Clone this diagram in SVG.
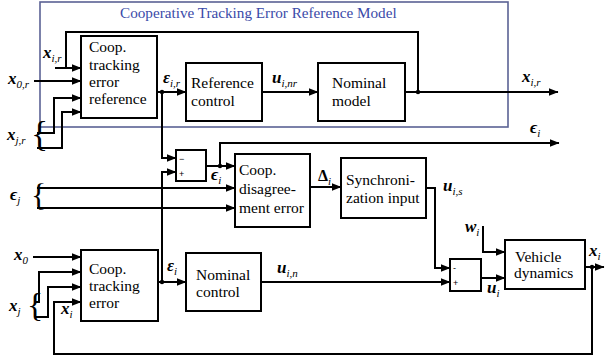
<svg xmlns="http://www.w3.org/2000/svg" width="605" height="361" viewBox="0 0 605 361">
<style>
.bx{fill:#fff;stroke:#000;stroke-width:2}
.ln{fill:none;stroke:#000;stroke-width:2}
.t{font-family:'Liberation Serif','Times New Roman',Times,Tinos,'Noto Serif','DejaVu Serif',serif;font-size:15.5px;fill:#000}
.m{font-family:'Liberation Serif','Times New Roman',Times,Tinos,'Noto Serif','DejaVu Serif',serif;fill:#000}
.ttl{font-family:'Liberation Serif','Times New Roman',Times,Tinos,'Noto Serif','DejaVu Serif',serif;font-size:15.2px;fill:#3a4aa8}
.b{font-weight:bold;font-style:italic;font-size:17px}
.bu{font-weight:bold;font-size:16px}
.s{font-style:italic;font-size:11px;font-weight:normal}
.sg{font-family:'Liberation Sans',Arial,sans-serif;font-size:9px;fill:#000}
.br{font-family:'Liberation Serif','Times New Roman',Times,'DejaVu Serif',serif;fill:#000}
</style>
<defs>
<marker id="ah" markerWidth="10" markerHeight="8" refX="9.5" refY="4" orient="auto" markerUnits="userSpaceOnUse"><path d="M0,0 L10,4 L0,8 z" fill="#000"/></marker>
</defs>

<g id="ref-model-frame">
<rect x="40" y="2" width="468" height="125" fill="none" stroke="#5b6294" stroke-width="1.6"/>
<text class="ttl" x="120" y="18">Cooperative Tracking Error Reference Model</text>
</g>

<g id="connectors">
<path class="ln" d="M418,92 V32 H66 V68 H81" marker-end="url(#ah)"/>
<path class="ln" d="M55,68 H66"/>
<path class="ln" d="M34,81 H81" marker-end="url(#ah)"/>
<path class="ln" d="M37,133 H54 V98 H81" marker-end="url(#ah)"/>
<path class="ln" d="M37,148 H62 V112 H81" marker-end="url(#ah)"/>
<path class="ln" d="M157,92 H186" marker-end="url(#ah)"/>
<path class="ln" d="M162,92 V158 H176" marker-end="url(#ah)"/>
<path class="ln" d="M262,92 H318" marker-end="url(#ah)"/>
<path class="ln" d="M405,92 H558" marker-end="url(#ah)"/>
<path class="ln" d="M162,282 V172 H176" marker-end="url(#ah)"/>
<path class="ln" d="M206,166 H235" marker-end="url(#ah)"/>
<path class="ln" d="M220,166 V143 H559" marker-end="url(#ah)"/>
<path class="ln" d="M37,188 H235" marker-end="url(#ah)"/>
<path class="ln" d="M37,208 H235" marker-end="url(#ah)"/>
<path class="ln" d="M310,187 H341" marker-end="url(#ah)"/>
<path class="ln" d="M426,188 H435 V268 H450" marker-end="url(#ah)"/>
<path class="ln" d="M483,226 V252 H505" marker-end="url(#ah)"/>
<path class="ln" d="M481,278 H505" marker-end="url(#ah)"/>
<path class="ln" d="M33,257 H81" marker-end="url(#ah)"/>
<path class="ln" d="M36,302 H39 V272 H81" marker-end="url(#ah)"/>
<path class="ln" d="M36,317 H48 V287 H81" marker-end="url(#ah)"/>
<path class="ln" d="M592,267 V354 H54 V302 H81" marker-end="url(#ah)"/>
<path class="ln" d="M585,267 H604" marker-end="url(#ah)"/>
<path class="ln" d="M158,282 H186" marker-end="url(#ah)"/>
<path class="ln" d="M261,282 H450" marker-end="url(#ah)"/>
<circle cx="162" cy="92" r="2.2"/>
<circle cx="418" cy="92" r="2.2"/>
<circle cx="220" cy="166" r="2.2"/>
<circle cx="162" cy="282" r="2.2"/>
<circle cx="592" cy="267" r="2.2"/>
</g>

<g id="coop-tracking-error-reference">
<rect class="bx" x="81" y="36" width="76" height="82"/>
<text class="t" x="89" y="52">Coop.</text>
<text class="t" x="89" y="70">tracking</text>
<text class="t" x="89" y="87">error</text>
<text class="t" x="89" y="104">reference</text>
</g>
<g id="reference-control">
<rect class="bx" x="186" y="63" width="76" height="58"/>
<text class="t" x="191" y="88">Reference</text>
<text class="t" x="191" y="106">control</text>
</g>
<g id="nominal-model">
<rect class="bx" x="318" y="63" width="87" height="58"/>
<text class="t" x="332" y="88">Nominal</text>
<text class="t" x="332" y="106">model</text>
</g>
<g id="sum1">
<rect class="bx" x="176" y="150" width="30" height="31"/>
<text class="sg" x="179" y="162">−</text>
<text class="sg" x="179" y="177">+</text>
</g>
<g id="coop-disagreement-error">
<rect class="bx" x="235" y="154" width="75" height="73"/>
<text class="t" x="239" y="175">Coop.</text>
<text class="t" x="239" y="194">disagree-</text>
<text class="t" x="239" y="213">ment error</text>
</g>
<g id="synchronization-input">
<rect class="bx" x="341" y="158" width="85" height="60"/>
<text class="t" x="346" y="185">Synchroni-</text>
<text class="t" x="346" y="203">zation input</text>
</g>
<g id="sum2">
<rect class="bx" x="450" y="259" width="31" height="32"/>
<text class="sg" x="453" y="271">-</text>
<text class="sg" x="453" y="286">+</text>
</g>
<g id="vehicle-dynamics">
<rect class="bx" x="505" y="240" width="80" height="49"/>
<text class="t" x="515" y="262">Vehicle</text>
<text class="t" x="514" y="278">dynamics</text>
</g>
<g id="coop-tracking-error">
<rect class="bx" x="81" y="250" width="77" height="71"/>
<text class="t" x="89" y="274">Coop.</text>
<text class="t" x="89" y="291">tracking</text>
<text class="t" x="89" y="308">error</text>
</g>
<g id="nominal-control">
<rect class="bx" x="186" y="253" width="75" height="58"/>
<text class="t" x="196" y="280">Nominal</text>
<text class="t" x="196" y="297">control</text>
</g>

<g id="labels">
<text class="m" x="43" y="58"><tspan class="b">x</tspan><tspan class="s" dy="4">i,r</tspan></text>
<text class="m" x="8" y="84"><tspan class="b">x</tspan><tspan class="s" dy="4">0,r</tspan></text>
<text class="m" x="7" y="140"><tspan class="b">x</tspan><tspan class="s" dy="4">j,r</tspan></text>
<text class="br" x="31" y="146" font-size="36">{</text>
<text class="m" x="163" y="83"><tspan class="b">ε</tspan><tspan class="s" dy="4">i,r</tspan></text>
<text class="m" x="272" y="83"><tspan class="b">u</tspan><tspan class="s" dy="4">i,nr</tspan></text>
<text class="m" x="522" y="82"><tspan class="b">x</tspan><tspan class="s" dy="4">i,r</tspan></text>
<text class="m" x="530" y="133"><tspan class="b">ϵ</tspan><tspan class="s" dy="4">i</tspan></text>
<text class="m" x="211" y="180"><tspan class="b">ϵ</tspan><tspan class="s" dy="4">i</tspan></text>
<text class="m" x="10" y="200"><tspan class="b">ϵ</tspan><tspan class="s" dy="4">j</tspan></text>
<text class="br" x="31" y="206" font-size="32">{</text>
<text class="m" x="318" y="181"><tspan class="bu">Δ</tspan><tspan class="s" dy="4">i</tspan></text>
<text class="m" x="443" y="191"><tspan class="b">u</tspan><tspan class="s" dy="4">i,s</tspan></text>
<text class="m" x="465" y="232"><tspan class="b">w</tspan><tspan class="s" dy="4">i</tspan></text>
<text class="m" x="14" y="260"><tspan class="b">x</tspan><tspan class="s" dy="4">0</tspan></text>
<text class="m" x="9" y="311"><tspan class="b">x</tspan><tspan class="s" dy="4">j</tspan></text>
<text class="br" x="27" y="316" font-size="34">{</text>
<text class="m" x="61" y="314"><tspan class="b">x</tspan><tspan class="s" dy="4">i</tspan></text>
<text class="m" x="167" y="271"><tspan class="b">ε</tspan><tspan class="s" dy="4">i</tspan></text>
<text class="m" x="277" y="273"><tspan class="b">u</tspan><tspan class="s" dy="4">i,n</tspan></text>
<text class="m" x="487" y="293"><tspan class="b">u</tspan><tspan class="s" dy="4">i</tspan></text>
<text class="m" x="589" y="256"><tspan class="b">x</tspan><tspan class="s" dy="4">i</tspan></text>
</g>
</svg>
